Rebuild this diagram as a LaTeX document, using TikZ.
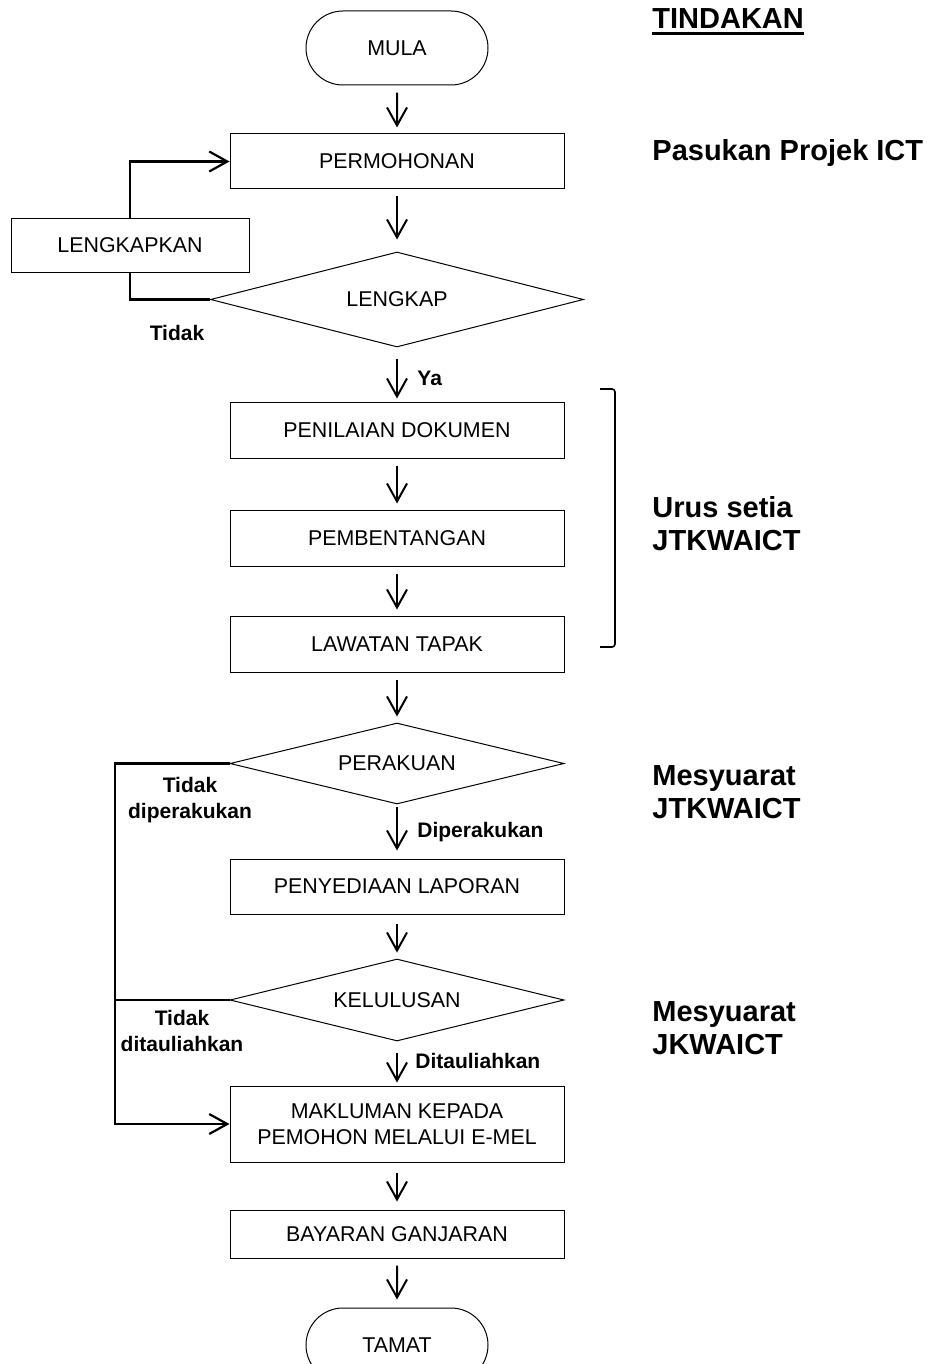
\documentclass[tikz,border=0pt]{standalone}
\usepackage{fontspec}
\setmainfont{Liberation Sans}
\usetikzlibrary{shapes.geometric}
\usetikzlibrary{shapes.misc}
\usetikzlibrary{arrows.meta}

\newcommand{\thickul}[1]{\setbox0\hbox{#1}\rlap{\raisebox{-3.25pt}{\rule{\wd0}{1.5pt}}}\box0}

\tikzset{
    >={Straight Barb[length=9pt,width=10pt]},
    box/.style={draw, line width=0.5pt, rectangle, inner sep=0pt, minimum width=167pt, minimum height=28pt, align=center, font=\fontsize{10.7}{13}\selectfont},
    terminal/.style={draw, line width=0.5pt, rounded rectangle, inner sep=0pt, minimum width=91pt, minimum height=37pt, font=\fontsize{10.7}{13}\selectfont},
    decision/.style={draw, line width=0.5pt, diamond, aspect=4, inner sep=0pt, minimum width=167pt, minimum height=41pt, font=\fontsize{10.7}{13}\selectfont},
    lbl/.style={font=\bfseries\fontsize{10.5}{13}\selectfont, align=center, inner sep=0pt},
    role/.style={font=\bfseries\fontsize{14.5}{16.5}\selectfont, align=left, anchor=west, inner sep=0pt},
    flow/.style={->, line width=1pt, shorten <=3.5pt, shorten >=3pt},
    back/.style={line width=1.1pt}
}

\begin{document}
\begin{tikzpicture}[x=0.5pt, y=-0.5pt]
    \useasboundingbox (0,0) rectangle (934,1364);

    \node[terminal] (mula) at (397,48) {MULA};
    \node[box, minimum height=27.5pt] (permohonan) at (397,161.5) {PERMOHONAN};
    \node[box, minimum width=119pt, minimum height=26.5pt] (lengkapkan) at (130,245.5) {LENGKAPKAN};
    \node[decision, minimum width=186.5pt, minimum height=47.5pt] (lengkap) at (397,299.5) {LENGKAP};
    \node[box] (penilaian) at (397,430) {PENILAIAN DOKUMEN};
    \node[box] (pembentangan) at (397,538) {PEMBENTANGAN};
    \node[box] (lawatan) at (397,644) {LAWATAN TAPAK};
    \node[decision, minimum height=40.5pt] (perakuan) at (397,763.5) {PERAKUAN};
    \node[box, minimum height=27.5pt] (penyediaan) at (397,886.5) {PENYEDIAAN LAPORAN};
    \node[decision] (kelulusan) at (397,1000) {KELULUSAN};
    \node[box, minimum height=38pt] (makluman) at (397,1124) {MAKLUMAN KEPADA\\PEMOHON MELALUI E-MEL};
    \node[box, minimum height=24pt] (bayaran) at (397,1234) {BAYARAN GANJARAN};
    \node[terminal] (tamat) at (397,1345) {TAMAT};

    \node[lbl] (tidak) at (177,333) {Tidak};
    \node[lbl, anchor=west] (ya) at (417,378) {Ya};
    \node[lbl] (tidakdiperakukan) at (190,800) {Tidak\\diperakukan};
    \node[lbl, anchor=west] (diperakukan) at (417,832) {Diperakukan};
    \node[lbl] (tidakditauliahkan) at (182,1030.5) {Tidak\\ditauliahkan};
    \node[lbl, anchor=west] (ditauliahkan) at (415,1061) {Ditauliahkan};

    \node[role] (tindakan) at (652,22) {\thickul{TINDAKAN}};
    \node[role] (pasukan) at (652,153) {Pasukan Projek ICT};
    \node[role] (urussetia) at (652,524) {Urus setia\\JTKWAICT};
    \node[role] (mesyjtk) at (652,792) {Mesyuarat\\JTKWAICT};
    \node[role] (mesyjk) at (652,1028) {Mesyuarat\\JKWAICT};

    \draw[flow] (mula) -- (permohonan);
    \draw[flow, shorten >=6pt] (permohonan) -- (lengkap);
    \draw[flow, shorten <=5.5pt, shorten >=1.5pt] (lengkap) -- (penilaian);
    \draw[flow] (penilaian) -- (pembentangan);
    \draw[flow] (pembentangan) -- (lawatan);
    \draw[flow] (lawatan) -- (perakuan);
    \draw[flow, shorten <=1pt, shorten >=4pt] (perakuan) -- (penyediaan);
    \draw[flow, shorten <=4.5pt] (penyediaan) -- (kelulusan);
    \draw[flow, shorten <=5.5pt, shorten >=1.5pt] (kelulusan) -- (makluman);
    \draw[flow, shorten <=5pt, shorten >=4pt] (makluman) -- (bayaran);
    \draw[flow, shorten >=4pt] (bayaran) -- (tamat);

    \draw[back] (lengkap.west) -| (lengkapkan.south);
    \draw[back, ->] (lengkapkan.north) |- (permohonan.west);

    \coordinate (kiri) at (115,1124);
    \draw[back, ->] (perakuan.west) -| (kiri) -- (makluman.west);
    \draw[back] (kelulusan.west) -- (kelulusan.west -| kiri);

    \draw[line width=0.8pt, rounded corners=1.5pt] (600,389) -- (615,389) -- (615,647) -- (600,647);
\end{tikzpicture}
\end{document}
